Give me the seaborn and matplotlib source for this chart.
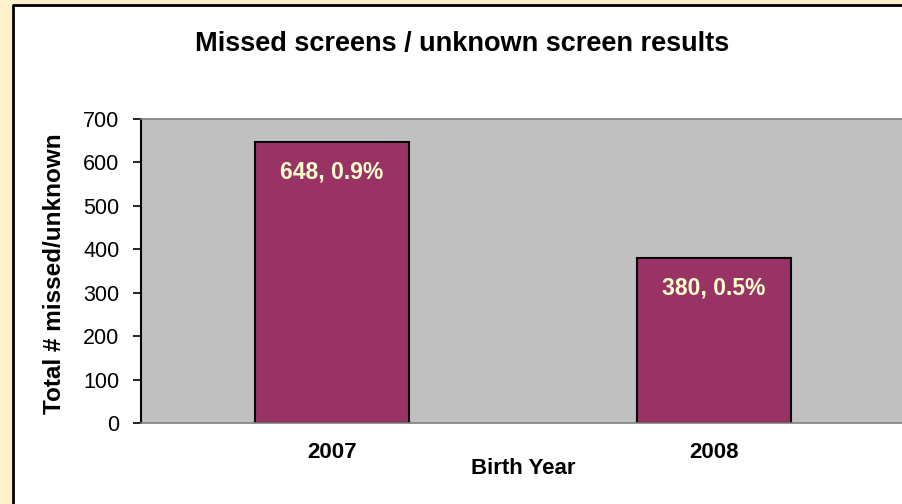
import matplotlib
matplotlib.use("Agg")
import matplotlib.pyplot as plt
import seaborn as sns
import pandas as pd
from matplotlib.patches import Rectangle
from matplotlib.lines import Line2D

years = ["2007", "2008"]
counts = [648, 380]
percents = ["0.9%", "0.5%"]
y_ticks = [0, 100, 200, 300, 400, 500, 600, 700]

sns.set_theme(style="white")
plt.rcParams["font.family"] = ["Liberation Sans", "DejaVu Sans"]
plt.rcParams["text.color"] = "black"
plt.rcParams["axes.labelcolor"] = "black"
plt.rcParams["xtick.color"] = "black"
plt.rcParams["ytick.color"] = "black"

fig = plt.figure(figsize=(9.03, 5.04), dpi=100)
fig.patch.set_facecolor("#FFF0CC")

# white chart panel (extends past the right and bottom edges), border on left and top
x0, y1 = 13 / 903, 1 - 5 / 504
panel = Rectangle((x0, -0.05), 1.1, y1 + 0.05, transform=fig.transFigure,
                  facecolor="white", edgecolor="none", zorder=-10)
fig.patches.append(panel)
fig.lines.append(Line2D([x0, x0, 1.1], [-0.05, y1, y1], transform=fig.transFigure,
                        color="black", linewidth=2, zorder=-9))

ax = fig.add_axes([141 / 903, 81 / 504, 764 / 903, 304 / 504])
ax.set_facecolor("#C0C0C0")

df = pd.DataFrame({"Birth Year": years, "count": counts})
sns.barplot(data=df, x="Birth Year", y="count", color="#993366", saturation=1,
            width=0.405, edgecolor="black", linewidth=1.5, ax=ax)

ax.set_xlim(-0.5, 1.5)
ax.set_ylim(0, 700)
ax.set_yticks(y_ticks)
ax.set_yticklabels([str(t) for t in y_ticks], fontsize=15.5)
ax.tick_params(axis="y", left=True, length=6, width=1.2, color="black", pad=9.5)
ax.tick_params(axis="x", bottom=False, length=0, pad=14)
for lab in ax.get_xticklabels():
    lab.set_fontweight("bold")
    lab.set_fontsize(16)

for side in ["top", "bottom"]:
    ax.spines[side].set_visible(True)
    ax.spines[side].set_color("#808080")
    ax.spines[side].set_linewidth(1.2)
ax.spines["right"].set_visible(False)
ax.spines["left"].set_color("black")
ax.spines["left"].set_linewidth(1.5)

for i, (c, p) in enumerate(zip(counts, percents)):
    ax.annotate(f"{c}, {p}", xy=(i, c), xytext=(0, -30 * 0.72), textcoords="offset points",
                ha="center", va="center", fontsize=16.5, fontweight="bold", color="#FFFFCC")

ax.set_xlabel("Birth Year", fontsize=16, fontweight="bold")
ax.xaxis.set_label_coords(0.5, -0.115)
ax.set_ylabel("Total # missed/unknown", fontsize=17.5, fontweight="bold")
ax.yaxis.label.set_va("center")
ax.yaxis.set_label_coords((55 - 141) / 764, 0.49)

fig.text(462.5 / 903, 1 - 44 / 504, "Missed screens / unknown screen results",
         ha="center", va="center", fontsize=19.5, fontweight="bold")

fig.savefig("out.png", dpi=100, facecolor=fig.get_facecolor())
